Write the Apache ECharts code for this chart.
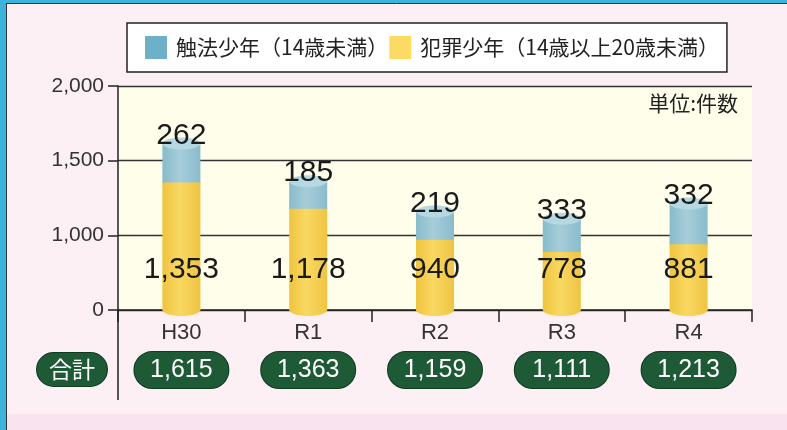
<!DOCTYPE html>
<html>
<head>
<meta charset="utf-8">
<script src="https://cdn.jsdelivr.net/npm/echarts@6/dist/echarts.min.js"></script>
<style>
html,body{margin:0;padding:0;background:#fcf0f5;}
#chart{width:787px;height:430px;}
</style>
</head>
<body>
<div id="chart"></div>
<script>
// 年度
const categories = ['H30', 'R1', 'R2', 'R3', 'R4'];
// 触法少年（14歳未満）
const shokuhoValues = [262, 185, 219, 333, 332];
// 犯罪少年（14歳以上20歳未満）
const hanzaiValues = [1353, 1178, 940, 778, 881];
// 合計
const totals = [1615, 1363, 1159, 1111, 1213];
// 縦軸の目盛（0〜1,000の間は省略して描かれている）
const yTickValues = [0, 1000, 1500, 2000];
const yTickLabels = ['0', '1,000', '1,500', '2,000'];

const FONT = '"Noto Sans CJK JP", "Noto Sans", sans-serif';
const NUM_FONT = '"Liberation Sans", Arial, sans-serif';

// 3桁区切り
const fmt = (v) => String(v).replace(/\B(?=(\d{3})+(?!\d))/g, ',');

// 省略軸：目盛の間を等間隔として位置に変換
const toAxis = (v) => {
    for (let i = 0; i < yTickValues.length - 1; i++) {
        let a = yTickValues[i], b = yTickValues[i + 1];
        if (v <= b || i === yTickValues.length - 2) {
            return i + (v - a) / (b - a);
        }
    }
};

const yellowGrad = () => new echarts.graphic.LinearGradient(0, 0, 1, 0, [
    {offset: 0, color: '#efc43f'},
    {offset: 0.45, color: '#f9d862'},
    {offset: 1, color: '#efc443'}
]);
const blueGrad = () => new echarts.graphic.LinearGradient(0, 0, 1, 0, [
    {offset: 0, color: '#88bbcb'},
    {offset: 0.45, color: '#a6cdd9'},
    {offset: 1, color: '#8abccc'}
]);

// 円柱の一部を描く
const cylinder = (kind) => (params, api) => {
    let idx = api.value(0);
    let lo = api.coord([idx, toAxis(api.value(1))]);
    let hi = api.coord([idx, toAxis(api.value(2))]);
    let w = api.size([1, 0])[0] * 0.3;
    let rx = w / 2, ry = 6;
    let cx = lo[0];
    let children = [];
    let val = api.value(2) - api.value(1);
    if (kind === 'yellow') {
        children.push({type: 'ellipse', shape: {cx: cx, cy: lo[1], rx: rx, ry: ry}, style: {fill: yellowGrad()}});
        children.push({type: 'rect', shape: {x: cx - rx, y: hi[1], width: w, height: lo[1] - hi[1]}, style: {fill: yellowGrad()}});
        children.push({type: 'ellipse', shape: {cx: cx, cy: hi[1], rx: rx, ry: ry}, style: {fill: yellowGrad()}});
        children.push({type: 'text', x: cx, y: lo[1] - 40, style: {
            text: fmt(val), fill: '#1a1a1a', fontSize: 30, fontFamily: NUM_FONT, align: 'center', verticalAlign: 'middle'}});
    } else {
        children.push({type: 'rect', shape: {x: cx - rx, y: hi[1], width: w, height: lo[1] - hi[1]}, style: {fill: blueGrad()}});
        children.push({type: 'ellipse', shape: {cx: cx, cy: hi[1], rx: rx, ry: ry}, style: {fill: '#b5d8e2'}});
        children.push({type: 'text', x: cx, y: hi[1] - ry - 2, style: {
            text: fmt(val), fill: '#1a1a1a', fontSize: 30, fontFamily: NUM_FONT, align: 'center', verticalAlign: 'middle'}});
    }
    return {type: 'group', children: children};
};

let chart = echarts.init(document.getElementById('chart'), null, {renderer: 'canvas'});
let option = {
    backgroundColor: '#fcf0f5',
    animation: false,
    textStyle: {fontFamily: FONT},
    legend: {
        left: 127,
        top: 23,
        data: ['触法少年（14歳未満）', '犯罪少年（14歳以上20歳未満）'],
        icon: 'rect',
        itemWidth: 22,
        itemHeight: 23,
        itemGap: 1,
        backgroundColor: '#fff',
        borderColor: '#222',
        borderWidth: 1.5,
        borderRadius: 0,
        padding: [13, 8, 13, 18],
        textStyle: {fontSize: 21, color: '#222', fontFamily: FONT, padding: [0, 0, 0, 4]}
    },
    grid: {
        left: 118,
        right: 35,
        top: 86,
        bottom: 120,
        show: true,
        backgroundColor: '#fffeeb',
        borderWidth: 0
    },
    xAxis: {
        type: 'category',
        data: categories,
        boundaryGap: true,
        axisLine: {lineStyle: {color: '#222', width: 1.5}},
        axisTick: {show: true, length: 12, lineStyle: {color: '#222', width: 1.5}},
        axisLabel: {
            margin: 12,
            interval: 0,
            formatter: (value, index) => '{c|' + value + '}\n{p|' + fmt(totals[index]) + '}',
            rich: {
                c: {fontSize: 22, color: '#333', fontFamily: NUM_FONT, lineHeight: 30, verticalAlign: 'top'},
                p: {
                    fontSize: 25, color: '#fff', fontFamily: NUM_FONT,
                    backgroundColor: '#1f5a37', borderColor: '#0f3a22', borderWidth: 1,
                    borderRadius: 18, width: 70, height: 26, align: 'center',
                    padding: [5, 12, 5, 12], lineHeight: 36
                }
            }
        }
    },
    yAxis: {
        type: 'value',
        min: 0,
        max: yTickValues.length - 1,
        interval: 1,
        axisLine: {show: true, lineStyle: {color: '#222', width: 1.5}},
        axisTick: {show: true, length: 10, lineStyle: {color: '#222', width: 1.5}},
        axisLabel: {
            fontSize: 21, color: '#333', fontFamily: NUM_FONT, margin: 14,
            formatter: (v) => yTickLabels[Math.round(v)]
        },
        splitLine: {show: true, lineStyle: {color: '#333', width: 1.3}}
    },
    series: [
        {
            name: '犯罪少年（14歳以上20歳未満）',
            type: 'custom',
            z: 2,
            itemStyle: {color: '#fbdb63'},
            encode: {x: 0, y: [1, 2]},
            renderItem: cylinder('yellow'),
            data: hanzaiValues.map((v, i) => [i, 0, v])
        },
        {
            name: '触法少年（14歳未満）',
            type: 'custom',
            z: 3,
            itemStyle: {color: '#6eb0c8'},
            encode: {x: 0, y: [1, 2]},
            renderItem: cylinder('blue'),
            data: shokuhoValues.map((v, i) => [i, hanzaiValues[i], hanzaiValues[i] + v])
        }
    ],
    graphic: [
        {type: 'rect', left: 0, top: 0, shape: {width: 6, height: 430}, style: {fill: '#3cb4da'}},
        {type: 'rect', left: 0, top: 0, shape: {width: 787, height: 3}, style: {fill: '#3cb4da'}},
        {type: 'line', shape: {x1: 6.5, y1: 3, x2: 6.5, y2: 430}, style: {stroke: '#333', lineWidth: 1}},
        {type: 'line', shape: {x1: 6, y1: 3.5, x2: 787, y2: 3.5}, style: {stroke: '#333', lineWidth: 1}},
        {type: 'rect', left: 7, top: 414, shape: {width: 780, height: 16}, style: {fill: '#f8e3ee'}},
        {type: 'line', shape: {x1: 118, y1: 310, x2: 118, y2: 400}, style: {stroke: '#222', lineWidth: 1.5}},
        {
            type: 'text', right: 49, top: 93,
            style: {text: '単位:件数', fontSize: 21, fill: '#222', fontFamily: FONT}
        },
        {
            type: 'text', left: 36, top: 352,
            style: {
                text: '合計', fontSize: 23, fill: '#fff', fontFamily: FONT,
                backgroundColor: '#1f5a37', borderColor: '#0f3a22', borderWidth: 1,
                borderRadius: 18, padding: [5, 12, 5, 12], width: 46, align: 'center'
            }
        }
    ]
};
chart.setOption(option);
</script>
</body>
</html>
